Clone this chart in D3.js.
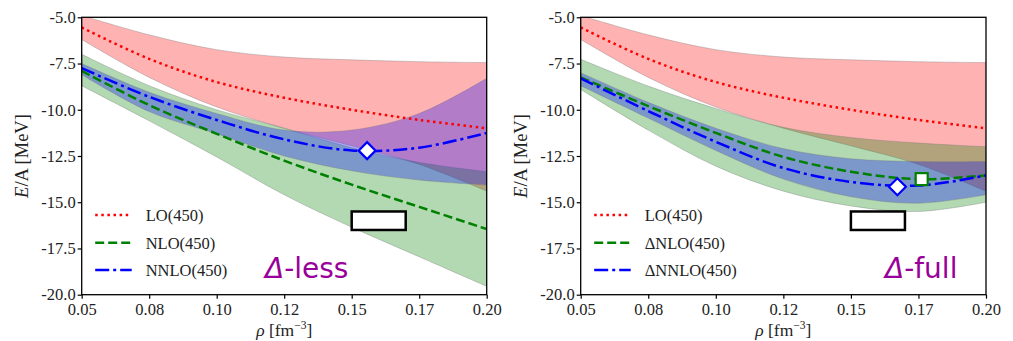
<!DOCTYPE html>
<html>
<head>
<meta charset="utf-8">
<script src="https://cdn.jsdelivr.net/npm/d3@7"></script>
<style>
  html, body { margin: 0; padding: 0; background: #fff; }
  svg { display: block; }
</style>
</head>
<body>
<div id="chart"></div>
<script>
// Density grid (fm^-3)
const rho = [0.05, 0.075, 0.10, 0.125, 0.15, 0.175, 0.20];

// LO(450): central curve and uncertainty band (same in both panels)
const loMid = [-5.55, -7.25, -8.50, -9.35, -10.00, -10.55, -11.00];
const loHi  = [-4.90, -5.95, -6.75, -7.15, -7.30, -7.40, -7.45];
const loLo  = [-6.20, -8.25, -9.85, -11.00, -11.95, -12.95, -14.40];

// Delta-less NLO / NNLO
const nloMid  = [-7.90, -9.75, -11.30, -12.75, -14.05, -15.25, -16.45];
const nloHi   = [-7.00, -8.70, -10.00, -11.00, -12.05, -12.85, -13.35];
const nloLo   = [-8.70, -10.60, -12.55, -14.60, -16.35, -17.95, -19.55];
const nnloMid = [-7.75, -9.30, -10.55, -11.60, -12.20, -12.05, -11.25];
const nnloHi  = [-7.50, -9.05, -10.20, -11.10, -11.10, -10.20, -8.30];
const nnloLo  = [-8.10, -10.10, -11.30, -12.50, -13.30, -13.80, -14.07];

// Delta-full NLO / NNLO
const dNloMid  = [-8.25, -9.80, -11.25, -12.55, -13.35, -13.75, -13.55];
const dNloHi   = [-7.27, -8.72, -9.93, -10.95, -11.50, -11.80, -12.00];
const dNloLo   = [-8.90, -11.10, -13.05, -14.40, -15.20, -15.50, -15.00];
const dNnloMid = [-8.30, -10.07, -11.73, -13.15, -13.90, -14.10, -13.55];
const dNnloHi  = [-8.00, -9.60, -11.00, -12.10, -12.65, -12.80, -12.80];
const dNnloLo  = [-8.70, -10.45, -12.20, -13.75, -14.70, -15.05, -14.60];

// Saturation points [rho, E/A]
const satLessNNLO = [0.1557, -12.21];
const satFullNLO  = [0.1762, -13.75];
const satFullNNLO = [0.1672, -14.16];

// Empirical saturation region
const empRho = [0.15, 0.17];
const empE   = [-16.5, -15.5];

// Axes
const xTicks = [0.05, 0.075, 0.10, 0.125, 0.15, 0.175, 0.20];
const xTickLabels = ["0.05", "0.08", "0.10", "0.12", "0.15", "0.17", "0.20"];
const yTicks = [-5.0, -7.5, -10.0, -12.5, -15.0, -17.5, -20.0];
const yTickLabels = ["-5.0", "-7.5", "-10.0", "-12.5", "-15.0", "-17.5", "-20.0"];

const legendLess = ["LO(450)", "NLO(450)", "NNLO(450)"];
const legendFull = ["LO(450)", "\u0394NLO(450)", "\u0394NNLO(450)"];

const W = 1013, H = 341;
const svg = d3.select("#chart").append("svg")
  .attr("width", W).attr("height", H)
  .attr("viewBox", `0 0 ${W} ${H}`);
svg.append("rect").attr("width", W).attr("height", H).attr("fill", "#fff");

const serif = "'Liberation Serif', 'Times New Roman', serif";
const sans = "'DejaVu Sans', sans-serif";
const RED = "#ff0000", GREEN = "#008000", BLUE = "#0000ff";
const curve = d3.curveCatmullRom.alpha(0.5);

function drawPanel(opts) {
  const { left, right, top, bottom, id } = opts;
  const x = d3.scaleLinear().domain([0.05, 0.20]).range([left, right]);
  const y = d3.scaleLinear().domain([-20, -5]).range([bottom, top]);
  const g = svg.append("g");

  g.append("clipPath").attr("id", id)
    .append("rect").attr("x", left).attr("y", top)
    .attr("width", right - left).attr("height", bottom - top);

  const plot = g.append("g").attr("clip-path", `url(#${id})`);

  const area = (hi, lo) => d3.area()
    .x((d, i) => x(rho[i]))
    .y0((d, i) => y(lo[i]))
    .y1((d, i) => y(hi[i]))
    .curve(curve)(rho);
  const line = (vals) => d3.line()
    .x((d, i) => x(rho[i]))
    .y((d, i) => y(vals[i]))
    .curve(curve)(rho);

  const bands = [
    [opts.bands[0], RED],
    [opts.bands[1], GREEN],
    [opts.bands[2], BLUE]
  ];
  bands.forEach(([b, c]) => {
    plot.append("path").attr("d", area(b[0], b[1]))
      .attr("fill", c).attr("fill-opacity", 0.3)
      .attr("stroke", "rgba(120,120,120,0.35)").attr("stroke-width", 1);
  });

  // Empirical saturation box
  plot.append("rect")
    .attr("x", x(empRho[0])).attr("y", y(empE[1]))
    .attr("width", x(empRho[1]) - x(empRho[0]))
    .attr("height", y(empE[0]) - y(empE[1]))
    .attr("fill", "#fff").attr("stroke", "#000").attr("stroke-width", 2.5);

  const styles = [
    { c: RED, dash: "2.5 3.6" },
    { c: GREEN, dash: "9 4" },
    { c: BLUE, dash: "14 4 3 4" }
  ];
  opts.lines.forEach((vals, i) => {
    plot.append("path").attr("d", line(vals))
      .attr("fill", "none").attr("stroke", styles[i].c)
      .attr("stroke-width", 2.5).attr("stroke-dasharray", styles[i].dash);
  });

  // Saturation markers
  (opts.squares || []).forEach(p => {
    const s = 12;
    plot.append("rect")
      .attr("x", x(p[0]) - s / 2).attr("y", y(p[1]) - s / 2)
      .attr("width", s).attr("height", s)
      .attr("fill", "#fff").attr("stroke", GREEN).attr("stroke-width", 2.2);
  });
  (opts.diamonds || []).forEach(p => {
    const r = 8.5;
    const cx = x(p[0]), cy = y(p[1]);
    plot.append("path")
      .attr("d", `M${cx},${cy - r}L${cx + r},${cy}L${cx},${cy + r}L${cx - r},${cy}Z`)
      .attr("fill", "#fff").attr("stroke", BLUE).attr("stroke-width", 2.2);
  });

  // Frame
  g.append("rect").attr("x", left).attr("y", top)
    .attr("width", right - left).attr("height", bottom - top)
    .attr("fill", "none").attr("stroke", "#000").attr("stroke-width", 1.3);

  // Axes
  const xAxis = d3.axisBottom(x).tickValues(xTicks)
    .tickFormat((d, i) => xTickLabels[i]).tickSize(4).tickPadding(3);
  const gx = g.append("g").attr("transform", `translate(0,${bottom})`).call(xAxis);
  const yAxis = d3.axisLeft(y).tickValues(yTicks)
    .tickFormat((d, i) => yTickLabels[i]).tickSize(4).tickPadding(2);
  const gy = g.append("g").attr("transform", `translate(${left},0)`).call(yAxis);
  [gx, gy].forEach(a => {
    a.attr("font-family", serif).attr("font-size", 16.5);
    a.select(".domain").remove();
    a.selectAll(".tick line").attr("stroke", "#000").attr("stroke-width", 1.2);
    a.selectAll("text").attr("font-family", serif).attr("font-size", 16.5).attr("fill", "#222");
  });
  gx.selectAll("text").attr("dy", "0.82em");

  // Axis titles
  const xl = g.append("text").attr("x", (left + right) / 2).attr("y", 336)
    .attr("text-anchor", "middle").attr("font-family", serif)
    .attr("font-size", 17.5).attr("fill", "#222");
  xl.append("tspan").attr("font-style", "italic").text("\u03C1");
  xl.append("tspan").text(" [fm");
  xl.append("tspan").attr("font-size", 11.5).attr("dy", -7).text("\u22123");
  xl.append("tspan").attr("dy", 7).text("]");

  const yl = g.append("text")
    .attr("transform", `translate(${left - 54},${(top + bottom) / 2}) rotate(-90)`)
    .attr("text-anchor", "middle").attr("font-family", serif)
    .attr("font-size", 18.5).attr("fill", "#222");
  yl.append("tspan").attr("font-style", "italic").text("E");
  yl.append("tspan").text("/A [MeV]");

  // Legend
  const legY = [215, 242.7, 270];
  opts.legend.forEach((name, i) => {
    g.append("line")
      .attr("x1", left + 13.5).attr("x2", left + 50)
      .attr("y1", legY[i]).attr("y2", legY[i])
      .attr("stroke", styles[i].c).attr("stroke-width", 2.5)
      .attr("stroke-dasharray", styles[i].dash);
    g.append("text").attr("x", left + 64).attr("y", legY[i] + 5.8)
      .attr("font-family", serif).attr("font-size", 16.5).attr("fill", "#222")
      .text(name);
  });

  // Panel tag
  const tag = g.append("text").attr("x", opts.tagX).attr("y", 278)
    .attr("font-family", sans).attr("font-size", 28).attr("fill", "#990099");
  tag.append("tspan").attr("font-style", "italic").text("\u0394");
  tag.append("tspan").text(opts.tag);
}

drawPanel({
  id: "clipLess", left: 81.7, right: 486.7, top: 17.3, bottom: 294.7,
  bands: [[loHi, loLo], [nloHi, nloLo], [nnloHi, nnloLo]],
  lines: [loMid, nloMid, nnloMid],
  diamonds: [satLessNNLO],
  legend: legendLess,
  tag: "-less", tagX: 265
});

drawPanel({
  id: "clipFull", left: 580.7, right: 986, top: 17.3, bottom: 294.7,
  bands: [[loHi, loLo], [dNloHi, dNloLo], [dNnloHi, dNnloLo]],
  lines: [loMid, dNloMid, dNnloMid],
  squares: [satFullNLO],
  diamonds: [satFullNNLO],
  legend: legendFull,
  tag: "-full", tagX: 885
});
</script>
</body>
</html>
